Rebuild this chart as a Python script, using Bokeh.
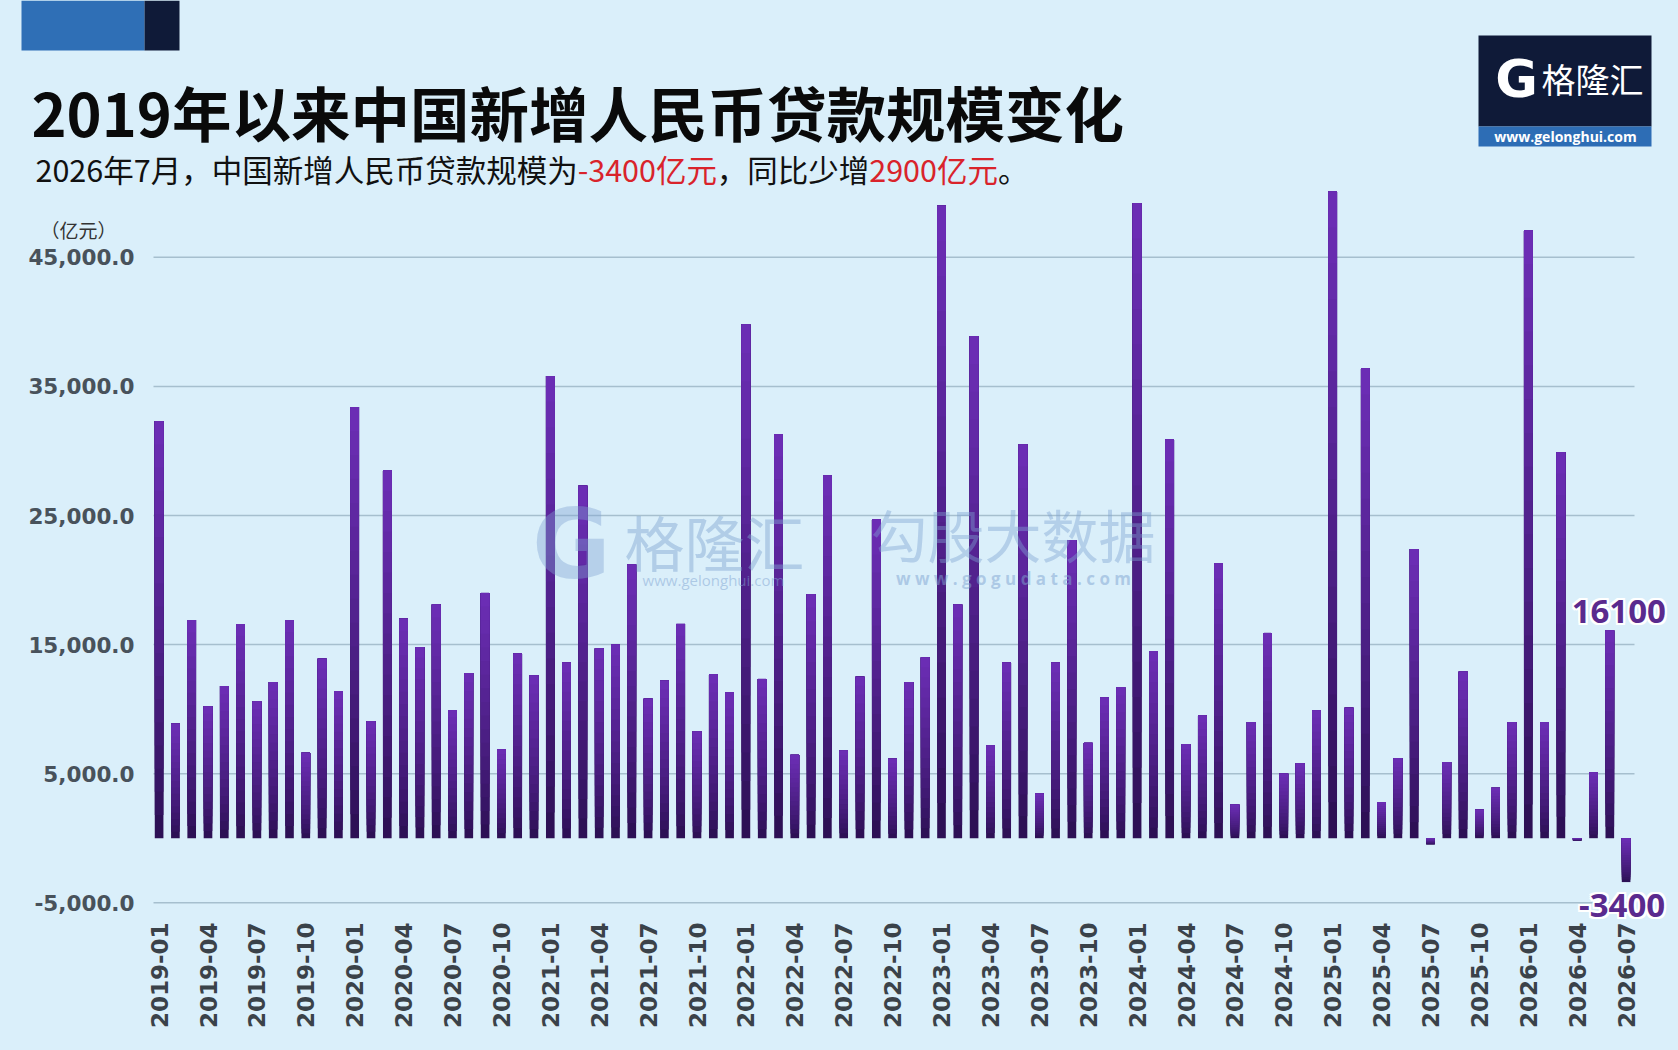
import math
import numpy as np
from bokeh.plotting import figure
from bokeh.models import Range1d
from bokeh.core.properties import value
from bokeh.embed import file_html
from bokeh.resources import INLINE

# ---------------- data ----------------
title_text = "2019年以来中国新增人民币贷款规模变化"
subtitle_parts = [
    ("2026年7月，中国新增人民币贷款规模为", "#111111"),
    ("-3400亿元", "#d9232b"),
    ("，同比少增", "#111111"),
    ("2900亿元", "#d9232b"),
    ("。", "#111111"),
]
unit_label = "（亿元）"

months = [f"{y}-{m:02d}" for y in range(2019, 2027) for m in range(1, 13)][:91]

loans_2019 = [32300, 8858, 16900, 10200, 11800, 16600, 10600, 12100, 16900, 6613, 13900, 11400]
loans_2020 = [33400, 9057, 28500, 17000, 14800, 18100, 9927, 12800, 19000, 6898, 14300, 12600]
loans_2021 = [35800, 13600, 27300, 14700, 15000, 21200, 10800, 12200, 16600, 8262, 12700, 11300]
loans_2022 = [39800, 12336, 31300, 6454, 18900, 28100, 6790, 12500, 24700, 6152, 12100, 14000]
loans_2023 = [49000, 18100, 38900, 7188, 13600, 30500, 3459, 13600, 23100, 7384, 10900, 11700]
loans_2024 = [49200, 14500, 30900, 7300, 9500, 21300, 2600, 9000, 15900, 5000, 5800, 9900]
loans_2025 = [50100, 10100, 36400, 2800, 6200, 22400, -500, 5900, 12900, 2200, 3900, 9000]
loans_2026 = [47100, 9000, 29900, -200, 5100, 16100, -3400]
loans = loans_2019 + loans_2020 + loans_2021 + loans_2022 + loans_2023 + loans_2024 + loans_2025 + loans_2026

tick_idx = list(range(0, len(months), 3))
tick_labels = [months[i] for i in tick_idx]
y_ticks = [-5000, 5000, 15000, 25000, 35000, 45000]
y_tick_labels = [f"{t:,.1f}" for t in y_ticks]
annot_idx = [len(loans) - 2, len(loans) - 1]

# ---------------- style / geometry ----------------
BG = "#daeffa"
W, H = 1678, 1050
CJK = "Noto Sans CJK SC"
SLOT = 16.30      # px per month
FIRST = 158.6     # page x of first bar centre
UNIT = 12.908     # px per 1000
ZERO = 837.7      # page y of zero line


def px_x(X):
    return (X - FIRST) / SLOT


def px_y(Y):
    return (ZERO - Y) * 1000 / UNIT


p = figure(width=W, height=H,
           x_range=Range1d(px_x(0), px_x(W)), y_range=Range1d(px_y(H), px_y(0)),
           output_backend="svg", toolbar_location=None,
           x_axis_location=None, y_axis_location=None,
           min_border_left=0, min_border_right=0, min_border_top=0, min_border_bottom=0)
p.outline_line_color = None
p.background_fill_color = BG
p.border_fill_color = BG
p.xgrid.visible = False
p.ygrid.visible = False

# ---------------- header ----------------
p.quad(left=[px_x(21)], right=[px_x(144)], top=[px_y(0)], bottom=[px_y(50)],
       fill_color="#2f6fb6", line_color=None)
p.quad(left=[px_x(144)], right=[px_x(179)], top=[px_y(0)], bottom=[px_y(50)],
       fill_color="#0f1a38", line_color=None)

p.text(x=[px_x(31)], y=[px_y(110)], text=[title_text], text_font=value(CJK), text_font_style="bold",
       text_font_size="59.5px", text_color="#0a0a0a", text_baseline="middle", text_align="left")


def text_width(s, size):
    w = 0.0
    for ch in s:
        if ch.isdigit():
            w += 0.555
        elif ch == "-":
            w += 0.34
        else:
            w += 1.0
    return w * size


sub_size = 30.5
cx = 35
for s, col in subtitle_parts:
    p.text(x=[px_x(cx)], y=[px_y(168)], text=[s], text_font=value(CJK), text_font_size=f"{sub_size}px",
           text_color=col, text_baseline="middle", text_align="left")
    cx += text_width(s, sub_size)

# logo box
p.quad(left=[px_x(1478)], right=[px_x(1651)], top=[px_y(35)], bottom=[px_y(126)],
       fill_color="#0f1a38", line_color=None)
p.quad(left=[px_x(1478)], right=[px_x(1651)], top=[px_y(126)], bottom=[px_y(146)],
       fill_color="#2d6db5", line_color=None)
p.text(x=[px_x(1516)], y=[px_y(78)], text=["G"], text_font=value("DejaVu Sans"), text_font_style="bold",
       text_font_size="52px", text_color="white", text_baseline="middle", text_align="center")
p.text(x=[px_x(1541)], y=[px_y(78)], text=["格隆汇"], text_font=value(CJK), text_font_size="34px",
       text_color="white", text_baseline="middle", text_align="left")
p.text(x=[px_x(1565)], y=[px_y(136)], text=["www.gelonghui.com"], text_font=value("Open Sans"),
       text_font_style="bold", text_font_size="14px", text_color="white",
       text_baseline="middle", text_align="center")

# ---------------- gridlines ----------------
p.segment(x0=[px_x(153)] * len(y_ticks), x1=[px_x(1634)] * len(y_ticks), y0=y_ticks, y1=y_ticks,
          line_color="#a6bfce", line_width=1.5)

# ---------------- gradient bars ----------------
idx = np.arange(len(loans))
v = np.array(loans, dtype=float)
lo = np.minimum(v, 0)
hi = np.maximum(v, 0)
dark = np.array([40, 14, 78])
light = np.array([108, 46, 182])
N = 18
for k in range(N):
    frac = k / N
    b = lo + (hi - lo) * frac
    t = (frac + 0.5 / N) ** 0.75
    c = dark + (light - dark) * t
    colr = "#%02x%02x%02x" % tuple(int(round(x)) for x in c)
    p.vbar(x=idx, bottom=b, top=hi, width=0.53, fill_color=colr, line_color=None)

# ---------------- tick labels (placed through the data scales) ----------------
p.text(x=[px_x(134)] * len(y_ticks), y=y_ticks, text=y_tick_labels,
       text_font=value("DejaVu Sans"), text_font_style="bold", text_font_size="21.5px",
       text_color="#48525b", text_align="right", text_baseline="middle")
p.text(x=tick_idx, y=[px_y(922)] * len(tick_idx), text=tick_labels, angle=math.pi / 2,
       text_font=value("DejaVu Sans"), text_font_style="bold", text_font_size="23px",
       text_color="#3a4249", text_align="right", text_baseline="middle")

# unit label
p.text(x=[px_x(78)], y=[px_y(229)], text=[unit_label], text_font=value(CJK), text_font_size="19px",
       text_color="#333333", text_align="center", text_baseline="middle")

# ---------------- value annotations with white halo (offsets in data units) ----------------
shifts = [(9, -19), (-4, 23)]
offs = [(-2, 0), (2, 0), (0, -2), (0, 2), (-2, -2), (2, 2), (-2, 2), (2, -2), (0, 0)]
for i, (dx, dy) in zip(annot_idx, shifts):
    for ox, oy in offs:
        col = "#5a2a8e" if (ox, oy) == (0, 0) else "white"
        p.text(x=[i + (dx + ox) / SLOT], y=[loans[i] - (dy + oy) * 1000 / UNIT], text=[str(loans[i])],
               text_font=value("Open Sans"), text_font_style="bold", text_font_size="33px",
               text_color=col, text_align="center", text_baseline="middle")

# ---------------- watermarks (semi-transparent colours, no alpha property) ----------------
p.text(x=[px_x(624)], y=[px_y(540)], text=["格隆汇"], text_font=value(CJK), text_font_size="60px",
       text_color="#7fa3d173", text_align="left", text_baseline="middle")
p.text(x=[px_x(870)], y=[px_y(532)], text=["勾股大数据"], text_font=value(CJK), text_font_size="57px",
       text_color="#7fa3d16b", text_align="left", text_baseline="middle")
p.text(x=[px_x(713)], y=[px_y(579)], text=["www.gelonghui.com"], text_font=value("Open Sans"),
       text_font_size="15px", text_color="#7fa3d180", text_align="center", text_baseline="middle")
p.text(x=[px_x(1013)], y=[px_y(578)], text=["w w w . g o g u d a t a . c o m"], text_font=value("Open Sans"),
       text_font_style="bold", text_font_size="17px", text_color="#7fa3d180",
       text_align="center", text_baseline="middle")
p.text(x=[px_x(571)], y=[px_y(544)], text=["G"], text_font=value("DejaVu Sans"), text_font_style="bold",
       text_font_size="96px", text_color="#7fa3d166", text_align="center", text_baseline="middle")

html = file_html(p, INLINE, title="2019年以来中国新增人民币贷款规模变化")
html = html.replace("</head>", "<style>html,body{background-color:%s;}</style></head>" % BG, 1)
open("out.html", "w").write(html)
